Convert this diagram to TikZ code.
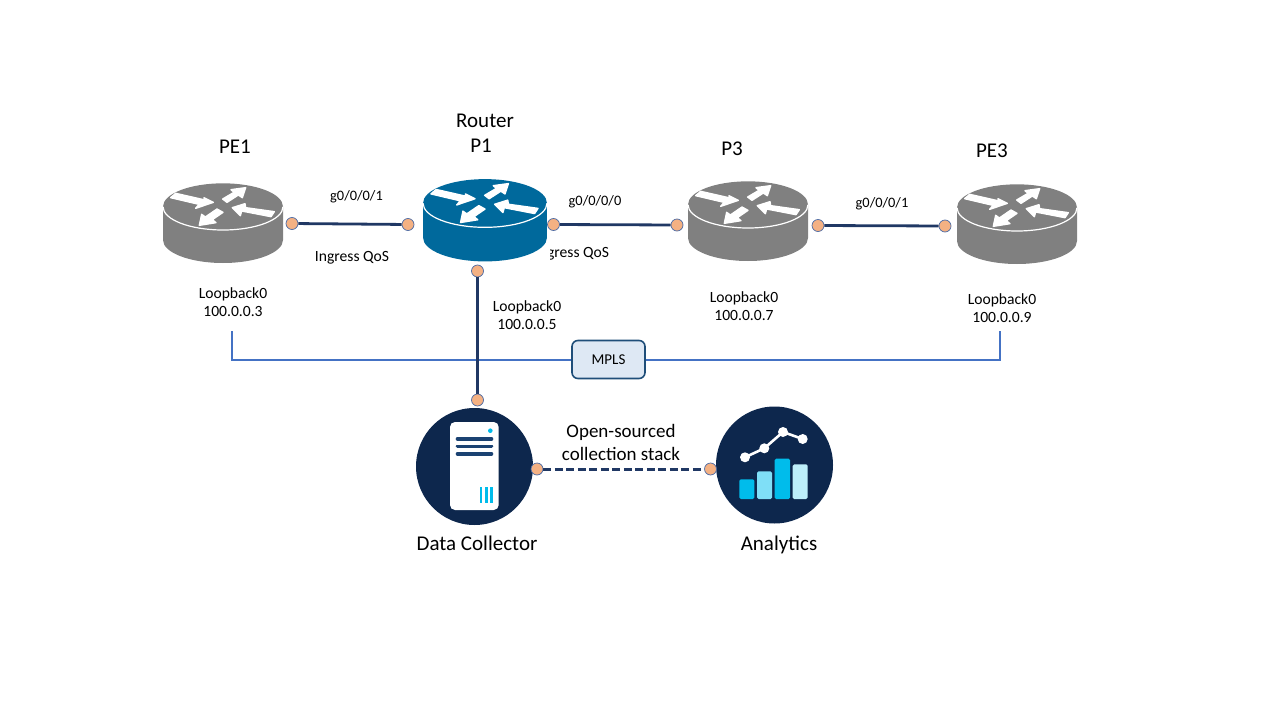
\documentclass[tikz,border=0pt]{standalone}
\usepackage{fontspec}
\setmainfont{Carlito}
\definecolor{routergray}{HTML}{808080}
\definecolor{routerblue}{HTML}{00699C}
\definecolor{linknavy}{HTML}{203864}
\definecolor{mplsblue}{HTML}{4472C4}
\definecolor{portfill}{HTML}{F4B183}
\definecolor{portedge}{HTML}{4A6AA5}
\definecolor{disc}{HTML}{0D274D}
\definecolor{cyanA}{HTML}{00BCEB}
\definecolor{cyanB}{HTML}{7FDFF7}
\definecolor{cyanC}{HTML}{BDEFFA}
\definecolor{slotblue}{HTML}{1B4272}
\definecolor{mplsfill}{HTML}{DEE8F4}
\definecolor{mplsedge}{HTML}{1F4E79}
\tikzset{
  port/.style={circle,draw=portedge,fill=portfill,line width=.7pt,minimum size=12pt,inner sep=0pt},
  link/.style={draw=linknavy,line width=2.8pt},
  dashlink/.style={draw=linknavy,line width=3pt,dash pattern=on 8pt off 3.5pt},
  mplsline/.style={draw=mplsblue,line width=2pt},
  mplsbox/.style={rounded corners=6pt,draw=mplsedge,fill=mplsfill,line width=1.6pt,minimum width=73pt,minimum height=38pt,inner sep=0pt,font=\fontsize{15}{18}\selectfont},
  small/.style={inner sep=0pt,align=center,font=\fontsize{15.6}{18.5}\selectfont},
  gport/.style={inner sep=0pt,font=\fontsize{14.4}{17}\selectfont},
  big/.style={inner sep=0pt,align=center,font=\fontsize{21}{25}\selectfont},
  mid/.style={inner sep=0pt,align=center,font=\fontsize{19}{23}\selectfont},
  routerarrow/.style={fill=white,draw=white,line width=1.4pt,line join=round},
  disk/.style={circle,fill=disc,draw=none,inner sep=0pt,minimum size=117pt}
}
% #1 x, #2 y, #3 scale, #4 colour
\newcommand{\routericon}[4]{%
  \begin{scope}[shift={(#1,#2)},x=#3*0.33333pt,y=-#3*0.33333pt]
    \fill[#4] (-180,5) -- (-180,105) .. controls (-180,143) and (-99,174) .. (0,174)
       .. controls (99,174) and (180,143) .. (180,105) -- (180,5)
       .. controls (180,-34) and (99,-65) .. (0,-65)
       .. controls (-99,-65) and (-180,-34) .. (-180,5) -- cycle;
    \draw[white,line width=1.2pt] (-180,5) .. controls (-180,44) and (-99,75) .. (0,75)
       .. controls (99,75) and (180,44) .. (180,5);
    \path[routerarrow] (-157,-22) -- (-142,-35) -- (-54,-15) -- (-57,-22) -- (-29,-8) -- (-82,10) -- (-72,-2) -- cycle;
    \path[routerarrow] (-1,-18) -- (33,-38) -- (24,-46) -- (68,-52) -- (58,-22) -- (46,-30) -- (12,-8) -- cycle;
    \path[routerarrow] (154,20) -- (68,8) -- (66,-4) -- (28,8) -- (52,32) -- (56,18) -- (144,35) -- cycle;
    \path[routerarrow] (-18,12) -- (0,22) -- (-32,44) -- (-21,53) -- (-71,61) -- (-64,28) -- (-53,36) -- cycle;
  \end{scope}}
\begin{document}
\begin{tikzpicture}[x=1pt,y=-1pt]
\useasboundingbox (0,0) rectangle (1280,720);
\fill[white] (0,0) rectangle (1280,720);

% text partly hidden behind the P1 router's white margin
\node[small] (qos2) at (572,254) {Ingress QoS};
\fill[white] (525,240) rectangle (549.5,266);

% MPLS line, under the box
\coordinate (mplsL) at (232,331);
\coordinate (mplsR) at (1000,331);
\node[mplsbox] (mpls) at (608.5,359.5) {MPLS};
\draw[mplsline] (mplsL) |- (mpls.west);
\draw[mplsline] (mplsR) |- (mpls.east);

\routericon{223}{205}{1}{routergray}
\routericon{485}{201.5}{1.033}{routerblue}
\routericon{748}{203}{1}{routergray}
\routericon{1017}{206}{1}{routergray}

% ports
\node[port] (pe1r) at (292,223.5) {};
\node[port] (p1l)  at (408,224.5) {};
\node[port] (p1r)  at (553.5,224.5) {};
\node[port] (p3l)  at (677,225) {};
\node[port] (p3r)  at (818,225.5) {};
\node[port] (pe3l) at (945,226) {};
\node[port] (p1b)  at (477.5,271) {};
\node[port] (dct)  at (477.5,400) {};

% discs
\node[disk] (dc) at (474.5,466.5) {};
\node[disk] (an) at (774.5,465) {};
\node[port] (dcr)  at (537,469) {};
\node[port] (anl)  at (710.5,469) {};

% connectors
\draw[link] (pe1r) -- (p1l);
\draw[link] (p1r) -- (p3l);
\draw[link] (p3r) -- (pe3l);
\draw[link] (p1b) -- (dct);
\draw[dashlink] (dcr) -- (anl);

% server icon
\fill[white,rounded corners=5pt] (450,422) rectangle (498.7,510);
\fill[cyanA] (490.3,430.7) circle[radius=2.3];
\foreach \yy in {439,446.3,453.7}
  \draw[slotblue,line width=3.6pt,line cap=round] (457.5,\yy) -- (491.5,\yy);
\foreach \xx in {481,486.3,491.7}
  \draw[cyanA,line width=2.6pt] (\xx,487.3) -- (\xx,503.3);

% analytics icon
\fill[cyanA,rounded corners=1.5pt] (739.3,479.3) rectangle (754.3,499);
\fill[cyanB,rounded corners=1.5pt] (757,471.3) rectangle (772,499);
\fill[cyanA,rounded corners=1.5pt] (774.7,458.7) rectangle (790,499);
\fill[cyanC,rounded corners=1.5pt] (792.7,464.3) rectangle (807.7,499);
\draw[white,line width=2.6pt] (745,457.3) -- (764.3,448.3) -- (783,432) -- (802.7,439);
\foreach \px/\py in {745/457.3,764.3/448.3,783/432,802.7/439}
  \fill[white] (\px,\py) circle[radius=5];

% labels
\node[big] (tpe1) at (235,146.5) {PE1};
\node[big] (tp1) at (485,133.5) {Router\\\hspace*{-8pt}P1};
\node[big] (tp3) at (732,148.5) {P3};
\node[big] (tpe3) at (992,150.5) {PE3};
\node[gport] (g1) at (356.5,197) {g0/0/0/1};
\node[gport] (g2) at (595,202) {g0/0/0/0};
\node[gport] (g3) at (882,204) {g0/0/0/1};
\node[small] (qos1) at (352,258) {Ingress QoS};
\node[small] (lb1) at (233,302) {Loopback0\\100.0.0.3};
\node[small] (lb2) at (527,315) {Loopback0\\100.0.0.5};
\node[small] (lb3) at (744,306) {Loopback0\\100.0.0.7};
\node[small] (lb4) at (1002,308) {Loopback0\\100.0.0.9};
\node[mid] (stack) at (621,442.5) {Open-sourced\\collection stack};
\node[big] (tdc) at (477,543.5) {Data Collector};
\node[big] (tan) at (779,545) {Analytics};
\end{tikzpicture}
\end{document}
